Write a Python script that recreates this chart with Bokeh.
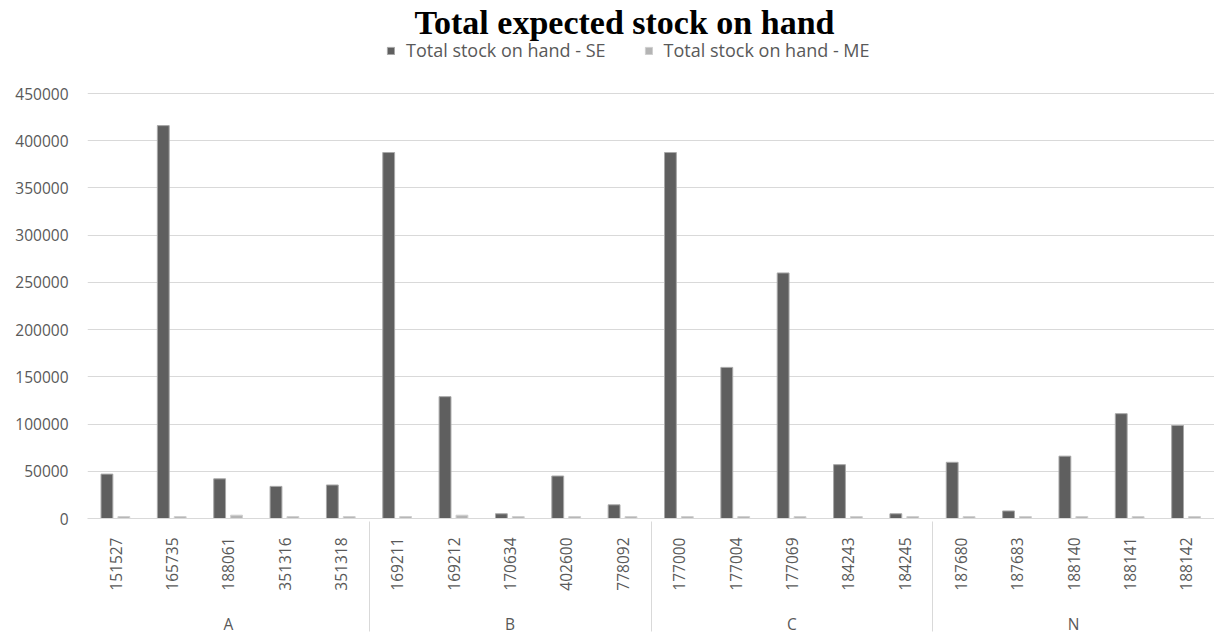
import math
from bokeh.plotting import figure
from bokeh.models import (FactorRange, ColumnDataSource, FixedTicker, BasicTickFormatter,
                          Legend, LegendItem, Range1d, Label)
from bokeh.transform import dodge
from bokeh.embed import file_html
from bokeh.resources import INLINE

groups = ["A"] * 5 + ["B"] * 5 + ["C"] * 5 + ["N"] * 5
ids = ["151527", "165735", "188061", "351316", "351318",
       "169211", "169212", "170634", "402600", "778092",
       "177000", "177004", "177069", "184243", "184245",
       "187680", "187683", "188140", "188141", "188142"]
se = [47000, 416000, 42000, 34000, 35500,
      387500, 129000, 5000, 45000, 14500,
      387500, 160000, 260000, 57000, 5000,
      59500, 8000, 66000, 111000, 98500]
me = [2000, 2000, 3500, 2000, 2000,
      2000, 3500, 2000, 2000, 2000,
      2000, 2000, 2000, 2000, 2000,
      2000, 2000, 2000, 2000, 2000]
y_ticks = [0, 50000, 100000, 150000, 200000, 250000, 300000, 350000, 400000, 450000]
series_names = ["Total stock on hand - SE", "Total stock on hand - ME"]
title_text = "Total expected stock on hand"

factors = list(zip(groups, ids))
src = ColumnDataSource(dict(x=factors, se=se, me=me))

TXT = "#595959"
FONT = "Open Sans"

FRAME_H = 518
AXIS_MAX = 450000
AXIS_PX = 425
y_end = AXIS_MAX * FRAME_H / AXIS_PX

p = figure(width=1214, height=636, frame_width=1127, frame_height=FRAME_H,
           output_backend="svg", toolbar_location=None,
           x_range=FactorRange(*factors, group_padding=0, factor_padding=0, range_padding=0),
           y_range=Range1d(0, y_end),
           min_border_left=87, min_border_right=0, min_border_bottom=0, min_border_top=0)

r1 = p.vbar(x=dodge("x", -0.155, range=p.x_range), top="se", width=0.21, source=src,
            fill_color="#5f5f5f", line_color="#a8a8a8", line_width=1)
r2 = p.vbar(x=dodge("x", 0.145, range=p.x_range), top="me", width=0.21, source=src,
            fill_color="#b4b4b4", line_color="#cfcfcf", line_width=1)

title = Label(x=537, y=496, x_units="screen", y_units="screen", text=title_text,
              text_align="center", text_baseline="middle",
              text_font="Liberation Serif", text_font_style="bold",
              text_font_size="34px", text_color="black")
p.add_layout(title)

legend = Legend(items=[LegendItem(label=series_names[0], renderers=[r1]),
                       LegendItem(label=series_names[1], renderers=[r2])],
                orientation="horizontal", location=(299, 456),
                label_text_font=FONT, label_text_font_size="18px", label_text_color=TXT,
                glyph_width=9, glyph_height=9, spacing=38, padding=0, margin=0,
                label_standoff=11,
                border_line_color=None, background_fill_alpha=0)
p.add_layout(legend, "center")

p.outline_line_color = None
p.xgrid.grid_line_color = None
p.ygrid.grid_line_color = "#d9d9d9"
p.ygrid.grid_line_width = 1

p.yaxis.ticker = FixedTicker(ticks=y_ticks)
p.yaxis.formatter = BasicTickFormatter(use_scientific=False)
p.yaxis.axis_line_color = None
p.yaxis.major_tick_line_color = None
p.yaxis.minor_tick_line_color = None
p.yaxis.major_tick_out = 0
p.yaxis.major_label_standoff = 19
p.yaxis.major_label_text_font = FONT
p.yaxis.major_label_text_font_size = "15.5px"
p.yaxis.major_label_text_color = TXT

xa = p.xaxis[0]
xa.axis_line_color = "#d9d9d9"
xa.major_tick_line_color = None
xa.minor_tick_line_color = None
xa.major_tick_out = 0
xa.major_label_orientation = math.pi / 2
xa.major_label_standoff = 19
xa.major_label_text_font = FONT
xa.major_label_text_font_size = "15.5px"
xa.major_label_text_color = TXT
xa.group_text_font = FONT
xa.group_text_font_size = "15.5px"
xa.group_text_color = TXT
xa.group_text_font_style = "normal"
xa.separator_line_color = "#d9d9d9"
xa.separator_line_width = 1

open("out.html", "w").write(file_html(p, INLINE))
